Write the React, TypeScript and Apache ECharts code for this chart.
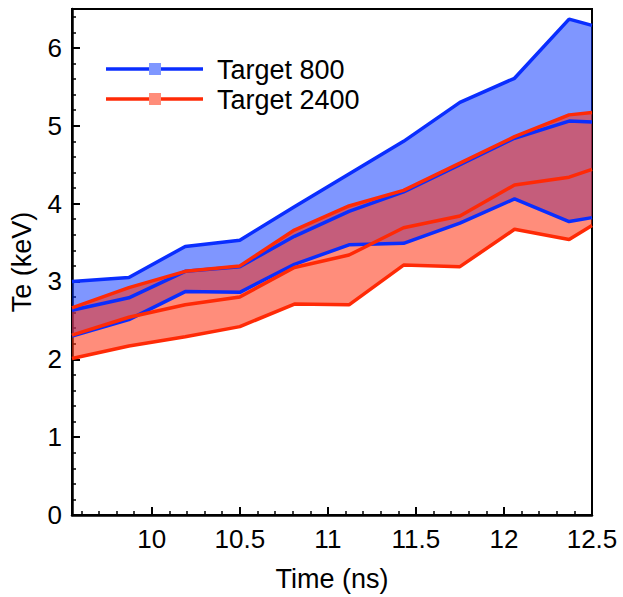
import React, { useEffect, useRef } from "react";
import * as echarts from "echarts";

const timeNs = [9.547, 9.87, 10.19, 10.5, 10.81, 11.12, 11.43, 11.75, 12.06, 12.37, 12.5];

const t800High = [3.0, 3.05, 3.45, 3.53, 3.96, 4.38, 4.8, 5.3, 5.61, 6.37, 6.29];
const t800Mid = [2.63, 2.79, 3.13, 3.19, 3.58, 3.9, 4.15, 4.5, 4.84, 5.06, 5.05];
const t800Low = [2.3, 2.51, 2.87, 2.86, 3.22, 3.47, 3.49, 3.75, 4.06, 3.77, 3.82];

const t2400High = [2.66, 2.92, 3.13, 3.2, 3.66, 3.97, 4.17, 4.52, 4.86, 5.14, 5.17];
const t2400Mid = [2.31, 2.54, 2.7, 2.8, 3.18, 3.34, 3.69, 3.84, 4.24, 4.34, 4.44];
const t2400Low = [2.01, 2.17, 2.29, 2.42, 2.71, 2.7, 3.21, 3.19, 3.67, 3.54, 3.72];

const xMajorTicks = [10, 10.5, 11, 11.5, 12, 12.5];
const xMinorTicks = [9.6, 9.7, 9.8, 9.9, 10.1, 10.2, 10.3, 10.4, 10.6, 10.7, 10.8, 10.9, 11.1, 11.2, 11.3, 11.4, 11.6, 11.7, 11.8, 11.9, 12.1, 12.2, 12.3, 12.4];
const yMajorTicks = [0, 1, 2, 3, 4, 5, 6];
const yMinorTicks = [0.2, 0.4, 0.6, 0.8, 1.2, 1.4, 1.6, 1.8, 2.2, 2.4, 2.6, 2.8, 3.2, 3.4, 3.6, 3.8, 4.2, 4.4, 4.6, 4.8, 5.2, 5.4, 5.6, 5.8, 6.2, 6.4];

const legendNames = ["Target 800", "Target 2400"];

const BLUE_LINE = "#0a2eff";
const BLUE_FILL = "rgba(0,45,255,0.5)";
const BLUE_MARK = "#7f97ff";
const RED_LINE = "#ff2a06";
const RED_FILL = "rgba(255,48,14,0.55)";
const RED_MARK = "#ff8d7a";
const FONT = "Liberation Sans, Arial, Helvetica, sans-serif";

function bandSeries(high: number[], low: number[], fill: string) {
  return {
    type: "custom",
    xAxisIndex: 0,
    yAxisIndex: 0,
    silent: true,
    data: [[timeNs[0], low[0]]],
    renderItem: (_params: any, api: any) => {
      const pts: number[][] = [];
      for (let i = 0; i < timeNs.length; i++) pts.push(api.coord([timeNs[i], high[i]]));
      for (let i = timeNs.length - 1; i >= 0; i--) pts.push(api.coord([timeNs[i], low[i]]));
      return { type: "polygon", shape: { points: pts }, style: { fill } };
    },
  };
}

function lineSeries(name: string, vals: number[], color: string) {
  return {
    type: "line",
    name,
    xAxisIndex: 0,
    yAxisIndex: 0,
    data: timeNs.map((x, i) => [x, vals[i]]),
    showSymbol: false,
    symbol: "none",
    silent: true,
    lineStyle: { color, width: 3.5 },
  };
}

export default function App() {
  const ref = useRef<HTMLDivElement>(null);
  useEffect(() => {
    if (!ref.current) return;
    const chart = echarts.init(ref.current, null, { renderer: "svg" });
    const axisLine = { show: true, lineStyle: { color: "#000", width: 2.5 } };
    chart.setOption({
      animation: false,
      backgroundColor: "#fff",
      grid: { left: 72, right: 31, top: 9, bottom: 80, show: true, borderColor: "#000", borderWidth: 2, backgroundColor: "transparent" },
      xAxis: [
        {
          type: "value",
          min: 9.547,
          max: 12.5,
          position: "bottom",
          name: "Time (ns)",
          nameLocation: "middle",
          nameGap: 50,
          nameTextStyle: { fontFamily: FONT, fontSize: 27, color: "#000" },
          axisLine,
          axisTick: { show: true, inside: true, length: 8, customValues: xMajorTicks, lineStyle: { color: "#000", width: 2 } },
          axisLabel: { show: true, customValues: xMajorTicks, fontFamily: FONT, fontSize: 26, color: "#000", margin: 11 },
          splitLine: { show: false },
        },
        {
          type: "value",
          min: 9.547,
          max: 12.5,
          position: "bottom",
          axisLine: { show: false },
          axisTick: { show: true, inside: true, length: 4, customValues: xMinorTicks, lineStyle: { color: "#000", width: 1.5 } },
          axisLabel: { show: false },
          splitLine: { show: false },
        },
      ],
      yAxis: [
        {
          type: "value",
          min: 0,
          max: 6.5,
          position: "left",
          name: "Te (keV)",
          nameLocation: "middle",
          nameGap: 37,
          nameRotate: 90,
          nameTextStyle: { fontFamily: FONT, fontSize: 27, color: "#000" },
          axisLine,
          axisTick: { show: true, inside: true, length: 8, customValues: yMajorTicks, lineStyle: { color: "#000", width: 2 } },
          axisLabel: { show: true, customValues: yMajorTicks, fontFamily: FONT, fontSize: 26, color: "#000", margin: 10 },
          splitLine: { show: false },
        },
        {
          type: "value",
          min: 0,
          max: 6.5,
          position: "left",
          axisLine: { show: false },
          axisTick: { show: true, inside: true, length: 4, customValues: yMinorTicks, lineStyle: { color: "#000", width: 1.5 } },
          axisLabel: { show: false },
          splitLine: { show: false },
        },
      ],
      series: [
        bandSeries(t800High, t800Low, BLUE_FILL),
        bandSeries(t2400High, t2400Low, RED_FILL),
        lineSeries(legendNames[0], t800High, BLUE_LINE),
        lineSeries(legendNames[0], t800Mid, BLUE_LINE),
        lineSeries(legendNames[0], t800Low, BLUE_LINE),
        lineSeries(legendNames[1], t2400High, RED_LINE),
        lineSeries(legendNames[1], t2400Mid, RED_LINE),
        lineSeries(legendNames[1], t2400Low, RED_LINE),
      ],
      graphic: [
        { type: "line", shape: { x1: 106, y1: 69, x2: 203, y2: 69 }, style: { stroke: BLUE_LINE, lineWidth: 3.5 }, z: 10 },
        { type: "rect", shape: { x: 149, y: 63, width: 12, height: 12 }, style: { fill: BLUE_MARK }, z: 11 },
        { type: "text", x: 217, y: 70, style: { text: legendNames[0], fontFamily: FONT, fontSize: 27, fill: "#000", verticalAlign: "middle", align: "left" }, z: 10 },
        { type: "line", shape: { x1: 106, y1: 99, x2: 203, y2: 99 }, style: { stroke: RED_LINE, lineWidth: 3.5 }, z: 10 },
        { type: "rect", shape: { x: 149, y: 93, width: 12, height: 12 }, style: { fill: RED_MARK }, z: 11 },
        { type: "text", x: 217, y: 100, style: { text: legendNames[1], fontFamily: FONT, fontSize: 27, fill: "#000", verticalAlign: "middle", align: "left" }, z: 10 },
      ],
    });
    return () => chart.dispose();
  }, []);
  return <div ref={ref} style={{ position: "fixed", left: 0, top: 0, width: 623, height: 597 }} />;
}
